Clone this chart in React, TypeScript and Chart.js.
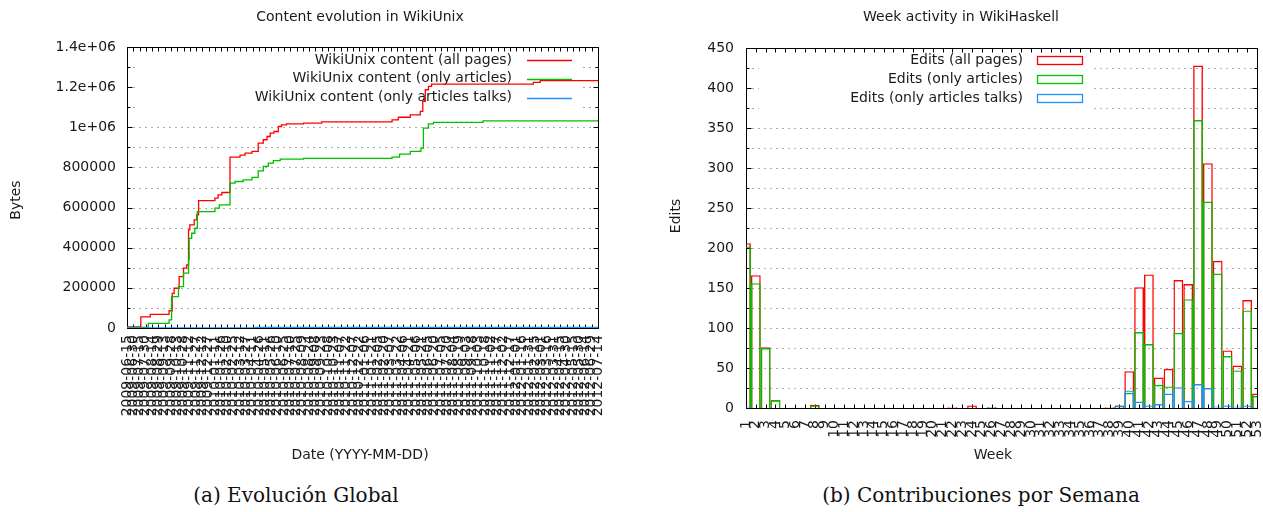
import React, { useEffect, useRef } from 'react';
import { Chart, registerables } from 'chart.js';

Chart.register(...registerables);

// ---------- Left chart: content evolution (x in 15-day tick units) ----------
const DATE_TICKS = [
  '2009-06-15', '2009-06-30', '2009-07-15', '2009-07-30', '2009-08-14', '2009-08-29', '2009-09-13', '2009-09-28',
  '2009-10-13', '2009-10-28', '2009-11-12', '2009-11-27', '2009-12-12', '2009-12-27',
  '2010-01-11', '2010-01-26', '2010-02-10', '2010-02-25', '2010-03-12', '2010-03-27', '2010-04-11', '2010-04-26',
  '2010-05-11', '2010-05-26', '2010-06-10', '2010-06-25', '2010-07-10', '2010-07-25', '2010-08-09', '2010-08-24',
  '2010-09-08', '2010-09-23', '2010-10-08', '2010-10-23', '2010-11-07', '2010-11-22', '2010-12-07', '2010-12-22',
  '2011-01-06', '2011-01-21', '2011-02-05', '2011-02-20', '2011-03-07', '2011-03-22', '2011-04-06', '2011-04-21',
  '2011-05-06', '2011-05-21', '2011-06-05', '2011-06-20', '2011-07-05', '2011-07-20', '2011-08-04', '2011-08-19',
  '2011-09-03', '2011-09-18', '2011-10-03', '2011-10-18', '2011-11-02', '2011-11-17', '2011-12-02', '2011-12-17',
  '2012-01-01', '2012-01-16', '2012-01-31', '2012-02-15', '2012-03-01', '2012-03-16', '2012-03-31', '2012-04-15',
  '2012-04-30', '2012-05-15', '2012-05-30', '2012-06-14', '2012-06-29', '2012-07-14',
];
const BYTES_TICKS = ['0', '200000', '400000', '600000', '800000', '1e+06', '1.2e+06', '1.4e+06'];

const ALL_X = [0, 2.2, 3.7, 6.7, 7.2, 7.5, 8.3, 9.0, 9.5, 9.8, 10.0, 10.7, 11.1, 11.4, 14.0, 14.5, 15.1, 16.4, 18.0, 18.8,
  19.9, 20.9, 21.7, 22.3, 22.8, 23.4, 24.1, 24.6, 25.4, 28.1, 31.0, 42.2, 43.2, 45.1, 46.7, 47.1, 47.5, 48.0, 48.5, 64.7, 65.8, 75];
const ALL_Y = [5000, 55000, 68000, 86000, 173000, 198000, 256000, 298000, 314000, 489000, 514000, 539000, 564000, 635000,
  647000, 663000, 675000, 851000, 861000, 871000, 880000, 921000, 938000, 954000, 971000, 979000, 1004000, 1012000, 1017000,
  1021000, 1027000, 1037000, 1050000, 1062000, 1079000, 1129000, 1187000, 1204000, 1215000, 1224000, 1232000, 1232000];

const ART_X = [0, 3.4, 6.7, 7.1, 8.2, 9.0, 9.8, 9.9, 10.3, 10.8, 11.2, 14.0, 14.7, 16.4, 17.2, 18.5, 19.9, 20.9, 21.7, 22.5,
  23.3, 24.4, 28.1, 42.2, 43.4, 45.1, 46.8, 47.2, 48.0, 48.8, 56.7, 75];
const ART_Y = [3000, 23000, 40000, 156000, 206000, 273000, 339000, 447000, 472000, 497000, 580000, 597000, 613000, 722000,
  730000, 738000, 750000, 783000, 805000, 821000, 834000, 841000, 845000, 851000, 866000, 880000, 896000, 996000, 1017000,
  1024000, 1032000, 1032000];

const TALK_X = [0, 20.4, 75];
const TALK_Y = [0, 3000, 3000];

// ---------- Right chart: week activity ----------
const WEEKS = ['1', '2', '3', '4', '5', '6', '7', '8', '9', '10', '11', '12', '13', '14', '15', '16', '17', '18', '19', '20',
  '21', '22', '23', '24', '25', '26', '27', '28', '29', '30', '31', '32', '33', '34', '35', '36', '37', '38', '39', '40',
  '41', '42', '43', '44', '45', '46', '47', '48', '49', '50', '51', '52', '53'];
const EDITS_ALL = [206, 166, 76, 10, 0, 0, 0, 4, 0, 0, 0, 0, 0, 0, 0, 0, 0, 0, 0, 0,
  0, 1, 0, 3, 0, 1, 0, 0, 0, 0, 0, 0, 0, 0, 0, 0, 0, 1, 3, 46,
  151, 167, 38, 49, 160, 155, 428, 306, 184, 72, 53, 135, 18];
const EDITS_ARTICLES = [202, 156, 75, 10, 0, 0, 0, 3, 0, 0, 0, 0, 0, 0, 0, 0, 0, 0, 0, 0,
  0, 0, 0, 0, 0, 1, 0, 0, 0, 0, 0, 0, 0, 0, 0, 0, 0, 0, 2, 19,
  95, 80, 29, 27, 94, 136, 360, 258, 168, 65, 47, 122, 15];
const EDITS_TALKS = [2, 0, 0, 0, 0, 0, 0, 0, 0, 0, 0, 0, 0, 0, 0, 0, 0, 0, 0, 0,
  0, 0, 0, 0, 0, 0, 0, 0, 0, 0, 0, 0, 0, 0, 0, 0, 0, 0, 3, 22,
  8, 3, 5, 18, 26, 9, 30, 25, 2, 3, 2, 3, 1];
const EDITS_TICKS = ['0', '50', '100', '150', '200', '250', '300', '350', '400', '450'];

const RED = '#ff0000';
const GREEN = '#00c000';
const BLUE = '#2090ff';
const FONT_FAMILY = '"DejaVu Sans", sans-serif';
const TEXT = '#1a1a1a';

type Decor = {
  title: string; titleX: number; titleY: number;
  xTitle: string; xTitleX: number; xTitleY: number;
  yTitle: string; yTitleX: number; yTitleY: number;
  legend: { text: string; color: string }[];
  legendRight: number; legendRows: number[];
  sampleX0: number; sampleX1: number; sampleBox: boolean;
  keyBox: [number, number, number, number];
  xTickLen: number;
};

function decor(d: Decor) {
  return {
    id: 'gnuplotDecor',
    beforeDatasetsDraw(chart: any) {
      const { ctx, chartArea: a, scales } = chart;
      const xs = scales.x;
      const ys = scales.y;
      ctx.save();
      // dotted grid
      ctx.strokeStyle = '#ababab';
      ctx.lineWidth = 1;
      ctx.setLineDash([2, 4]);
      ys.ticks.forEach((t: any, i: number) => {
        if (i === 0 || i === ys.ticks.length - 1) return;
        const py = Math.round(ys.getPixelForValue(t.value)) + 0.5;
        ctx.beginPath();
        ctx.moveTo(a.left, py);
        ctx.lineTo(a.right, py);
        ctx.stroke();
      });
      ctx.setLineDash([]);
      // opaque key box
      ctx.fillStyle = '#ffffff';
      const [bx, by, bw, bh] = d.keyBox;
      ctx.fillRect(bx, by, bw, bh);
      // frame
      ctx.strokeStyle = '#000';
      ctx.lineWidth = 1;
      const L = Math.round(a.left) + 0.5, T = Math.round(a.top) + 0.5;
      const R = Math.round(a.right) + 0.5, B = Math.round(a.bottom) + 0.5;
      ctx.strokeRect(L, T, R - L, B - T);
      // inward ticks
      ctx.beginPath();
      xs.ticks.forEach((_: any, i: number) => {
        const px = Math.round(xs.getPixelForTick(i)) + 0.5;
        ctx.moveTo(px, B); ctx.lineTo(px, B - d.xTickLen);
        ctx.moveTo(px, T); ctx.lineTo(px, T + d.xTickLen);
      });
      ys.ticks.forEach((t: any, i: number) => {
        const py = Math.round(ys.getPixelForValue(t.value)) + 0.5;
        const len = i % 2 === 0 ? 5 : 3;
        ctx.moveTo(L, py); ctx.lineTo(L + len, py);
        ctx.moveTo(R, py); ctx.lineTo(R - len, py);
      });
      ctx.stroke();
      // key text + samples
      ctx.font = `14px ${FONT_FAMILY}`;
      ctx.fillStyle = TEXT;
      ctx.textAlign = 'right';
      ctx.textBaseline = 'middle';
      d.legend.forEach((it, i) => {
        const ry = d.legendRows[i];
        ctx.fillText(it.text, d.legendRight, ry);
        ctx.strokeStyle = it.color;
        if (d.sampleBox) {
          ctx.lineWidth = 1.3;
          ctx.strokeRect(d.sampleX0 + 0.5, Math.round(ry - 4) + 0.5, d.sampleX1 - d.sampleX0, 8);
        } else {
          ctx.lineWidth = 1.3;
          ctx.beginPath();
          ctx.moveTo(d.sampleX0, Math.round(ry) + 0.5);
          ctx.lineTo(d.sampleX1, Math.round(ry) + 0.5);
          ctx.stroke();
        }
      });
      ctx.restore();
    },
    afterDraw(chart: any) {
      const ctx = chart.ctx;
      ctx.save();
      ctx.fillStyle = TEXT;
      ctx.font = `14px ${FONT_FAMILY}`;
      ctx.textAlign = 'center';
      ctx.textBaseline = 'middle';
      ctx.fillText(d.title, d.titleX, d.titleY);
      ctx.fillText(d.xTitle, d.xTitleX, d.xTitleY);
      ctx.translate(d.yTitleX, d.yTitleY);
      ctx.rotate(-Math.PI / 2);
      ctx.fillText(d.yTitle, 0, 0);
      ctx.restore();
    },
  };
}

const tickFont = { family: FONT_FAMILY, size: 14 };

function leftConfig(): any {
  const mk = (xs: number[], ys: number[]) => xs.map((x, i) => ({ x, y: ys[i] }));
  return {
    type: 'line',
    data: {
      datasets: [
        { label: 'WikiUnix content (all pages)', data: mk(ALL_X, ALL_Y), borderColor: RED, order: 3 },
        { label: 'WikiUnix content (only articles)', data: mk(ART_X, ART_Y), borderColor: GREEN, order: 2 },
        { label: 'WikiUnix content (only articles talks)', data: mk(TALK_X, TALK_Y), borderColor: BLUE, order: 1 },
      ].map((ds) => ({ ...ds, stepped: 'before', borderWidth: 1.3, pointRadius: 0, fill: false, tension: 0 })),
    },
    options: {
      animation: false,
      responsive: false,
      layout: { padding: { top: 47, right: 32, left: 0, bottom: 0 } },
      plugins: { legend: { display: false }, tooltip: { enabled: false }, title: { display: false } },
      scales: {
        x: {
          type: 'linear', min: 0, max: DATE_TICKS.length - 1,
          afterBuildTicks: (s: any) => { s.ticks = DATE_TICKS.map((_, i) => ({ value: i })); },
          afterFit: (s: any) => { s.height = 142; s.paddingLeft = 0; s.paddingRight = 0; },
          grid: { display: false, drawTicks: false }, border: { display: false },
          ticks: {
            autoSkip: false, minRotation: 90, maxRotation: 90, padding: 7, font: tickFont, color: TEXT,
            callback: (_v: any, i: number) => DATE_TICKS[i],
          },
        },
        y: {
          type: 'linear', min: 0, max: 1400000,
          afterBuildTicks: (s: any) => { s.ticks = Array.from({ length: 15 }, (_, i) => ({ value: i * 100000 })); },
          afterFit: (s: any) => { s.width = 127; s.paddingTop = 0; s.paddingBottom = 0; },
          grid: { display: false, drawTicks: false }, border: { display: false },
          ticks: {
            autoSkip: false, padding: 11, font: tickFont, color: TEXT,
            callback: (_v: any, i: number) => (i % 2 === 0 ? BYTES_TICKS[i / 2] : ''),
          },
        },
      },
    },
    plugins: [decor({
      title: 'Content evolution in WikiUnix', titleX: 360, titleY: 17,
      xTitle: 'Date (YYYY-MM-DD)', xTitleX: 360, xTitleY: 455,
      yTitle: 'Bytes', yTitleX: 16, yTitleY: 200,
      legend: [
        { text: 'WikiUnix content (all pages)', color: RED },
        { text: 'WikiUnix content (only articles)', color: GREEN },
        { text: 'WikiUnix content (only articles talks)', color: BLUE },
      ],
      legendRight: 512, legendRows: [60, 78.5, 97.5], sampleX0: 527, sampleX1: 572, sampleBox: false,
      keyBox: [138, 49, 442, 67], xTickLen: 4,
    })],
  };
}

function rightConfig(): any {
  const mk = (vals: number[]) => vals.map((v) => (v ? v : null));
  return {
    type: 'bar',
    data: {
      labels: WEEKS,
      datasets: [
        { label: 'Edits (all pages)', data: mk(EDITS_ALL), borderColor: RED, order: 3 },
        { label: 'Edits (only articles)', data: mk(EDITS_ARTICLES), borderColor: GREEN, order: 2 },
        { label: 'Edits (only articles talks)', data: mk(EDITS_TALKS), borderColor: BLUE, order: 1 },
      ].map((ds) => ({
        ...ds, backgroundColor: 'rgba(0,0,0,0)', borderWidth: 1.4, borderSkipped: 'start',
        categoryPercentage: 1, barPercentage: 1, grouped: false, inflateAmount: 0,
      })),
    },
    options: {
      animation: false,
      responsive: false,
      layout: { padding: { top: 48, right: 6, left: 0, bottom: 0 } },
      plugins: { legend: { display: false }, tooltip: { enabled: false }, title: { display: false } },
      scales: {
        x: {
          type: 'category', offset: false,
          afterFit: (s: any) => { s.height = 62; s.paddingLeft = 0; s.paddingRight = 0; },
          grid: { display: false, drawTicks: false, offset: false }, border: { display: false },
          ticks: { autoSkip: false, minRotation: 90, maxRotation: 90, padding: 12, font: tickFont, color: TEXT },
        },
        y: {
          type: 'linear', min: 0, max: 450,
          afterBuildTicks: (s: any) => { s.ticks = Array.from({ length: 19 }, (_, i) => ({ value: i * 25 })); },
          afterFit: (s: any) => { s.width = 116; s.paddingTop = 0; s.paddingBottom = 0; },
          grid: { display: false, drawTicks: false }, border: { display: false },
          ticks: {
            autoSkip: false, padding: 12, font: tickFont, color: TEXT,
            callback: (_v: any, i: number) => (i % 2 === 0 ? EDITS_TICKS[i / 2] : ''),
          },
        },
      },
    },
    plugins: [decor({
      title: 'Week activity in WikiHaskell', titleX: 331, titleY: 17,
      xTitle: 'Week', xTitleX: 363, xTitleY: 455,
      yTitle: 'Edits', yTitleX: 46, yTitleY: 216,
      legend: [
        { text: 'Edits (all pages)', color: RED },
        { text: 'Edits (only articles)', color: GREEN },
        { text: 'Edits (only articles talks)', color: BLUE },
      ],
      legendRight: 393, legendRows: [60, 79, 98], sampleX0: 407, sampleX1: 452, sampleBox: true,
      keyBox: [129, 49, 332, 67], xTickLen: 4,
    })],
  };
}

function ChartCanvas({ make, left, width, height }: { make: () => any; left: number; width: number; height: number }) {
  const ref = useRef<HTMLCanvasElement>(null);
  useEffect(() => {
    const chart = new Chart(ref.current as HTMLCanvasElement, make());
    return () => chart.destroy();
  }, []);
  return (
    <canvas ref={ref} width={width} height={height}
      style={{ position: 'absolute', left, top: 0, width, height }} />
  );
}

const captionStyle: React.CSSProperties = {
  position: 'absolute', top: 482, transform: 'translateX(-50%)', whiteSpace: 'nowrap',
  fontFamily: '"DejaVu Serif", serif', fontSize: 20, color: '#111', lineHeight: '26px',
};

export default function App() {
  return (
    <div style={{ position: 'fixed', left: 0, top: 0, width: 1263, height: 512, background: '#fff', overflow: 'hidden' }}>
      <ChartCanvas make={leftConfig} left={0} width={630} height={470} />
      <ChartCanvas make={rightConfig} left={630} width={633} height={470} />
      <div style={{ ...captionStyle, left: 296 }}>(a) Evolución Global</div>
      <div style={{ ...captionStyle, left: 981 }}>(b) Contribuciones por Semana</div>
    </div>
  );
}
